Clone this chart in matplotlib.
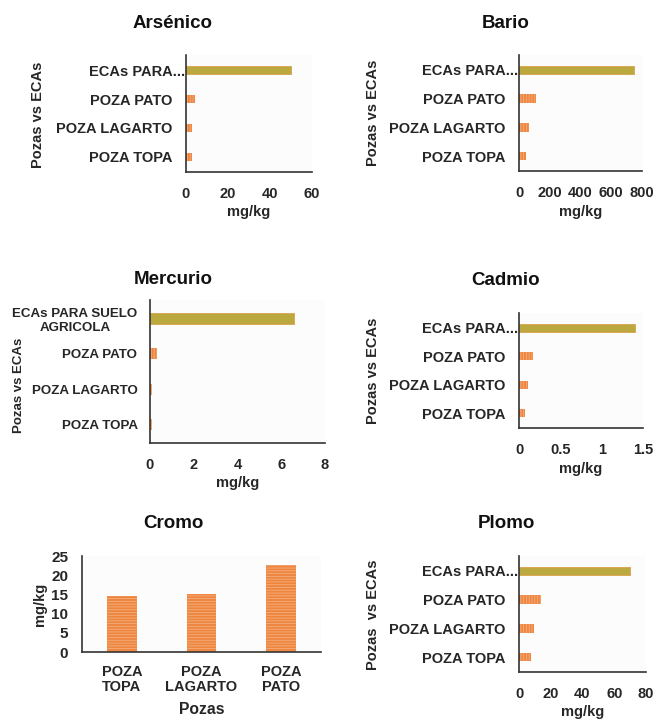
import matplotlib
matplotlib.use('Agg')
import matplotlib.pyplot as plt
from matplotlib.transforms import ScaledTranslation

# ---------------- data ----------------
categories = ['POZA TOPA', 'POZA LAGARTO', 'POZA PATO', 'ECAs PARA...']
mercurio_categories = ['POZA TOPA', 'POZA LAGARTO', 'POZA PATO', 'ECAs PARA SUELO\nAGRICOLA']
arsenico = [2.8, 2.8, 4.2, 50]
bario = [45, 65, 110, 750]
mercurio = [0.1, 0.1, 0.32, 6.6]
cadmio = [0.07, 0.11, 0.17, 1.4]
plomo = [7.5, 9.5, 14, 70]
cromo_categories = ['POZA\nTOPA', 'POZA\nLAGARTO', 'POZA\nPATO']
cromo = [14.6, 15.1, 22.7]

arsenico_ticks = [0, 20, 40, 60]
bario_ticks = [0, 200, 400, 600, 800]
mercurio_ticks = [0, 2, 4, 6, 8]
cadmio_ticks = [0, 0.5, 1, 1.5]
cadmio_ticklabels = ['0', '0.5', '1', '1.5']
plomo_ticks = [0, 20, 40, 60, 80]
cromo_ticks = [0, 5, 10, 15, 20, 25]

# ---------------- style ----------------
plt.rcParams['font.family'] = ['Liberation Sans', 'DejaVu Sans']
plt.rcParams['font.weight'] = 'bold'
plt.rcParams['axes.labelweight'] = 'bold'
plt.rcParams['hatch.linewidth'] = 0.6
TXT = '#262626'
ORANGE = '#EE8640'
STRIPE = '#F5AE7E'
OLIVE = '#BBA83E'
BG = '#FDFCFC'

W, H = 655, 719
fig = plt.figure(figsize=(W / 100, H / 100), dpi=100)


def px_axes(l, t, r, b):
    return fig.add_axes([l / W, 1 - b / H, (r - l) / W, (b - t) / H])


def style_axes(ax):
    ax.set_facecolor(BG)
    for s in ('top', 'right'):
        ax.spines[s].set_visible(False)
    for s in ('left', 'bottom'):
        ax.spines[s].set_color('#333333')
        ax.spines[s].set_linewidth(1.2)
    ax.tick_params(length=0, colors=TXT)


def hbar(box, vals, xticks, xticklabels, title, title_xy, ylabel, ylabel_xy,
         xlabel_y, cats=categories, fs=10.5, barh_=0.29, eca_shift=13,
         ylab_fs=10.5, lab_pad=10, tick_fs=10.5):
    l, t, r, b = box
    ax = px_axes(l, t, r, b)
    style_axes(ax)
    colors = [ORANGE, ORANGE, ORANGE, OLIVE]
    bars = ax.barh(range(len(vals)), vals, height=barh_, color=colors)
    for i, p in enumerate(bars):
        if i < 3:
            p.set_edgecolor(STRIPE)
            p.set_linewidth(0)
            p.set_hatch('|' * 6)
        else:
            p.set_edgecolor('#D9A24A')
            p.set_linewidth(0.6)
    ax.set_ylim(-0.52, 3.52)
    ax.set_xlim(xticks[0], xticks[-1])
    ax.set_xticks(xticks)
    ax.set_xticklabels(xticklabels, fontsize=tick_fs, color=TXT)
    ax.set_yticks(range(len(cats)))
    ax.set_yticklabels(cats, fontsize=fs, color=TXT, multialignment='center')
    ax.tick_params(axis='y', pad=lab_pad)
    ax.tick_params(axis='x', pad=11)
    if eca_shift:
        lab = ax.get_yticklabels()[3]
        lab.set_transform(lab.get_transform() +
                          ScaledTranslation(eca_shift / 100, 0, fig.dpi_scale_trans))
    ax.set_xlabel('mg/kg', fontsize=10.5, color=TXT, fontweight='bold')
    ax.xaxis.set_label_coords((l + r) / 2 / W, 1 - xlabel_y / H, transform=fig.transFigure)
    ax.xaxis.label.set_va('center')
    ax.set_ylabel(ylabel, fontsize=ylab_fs, color=TXT, fontweight='bold')
    ax.yaxis.set_label_coords(ylabel_xy[0] / W, 1 - ylabel_xy[1] / H, transform=fig.transFigure)
    ax.yaxis.label.set_va('center')
    fig.text(title_xy[0] / W, 1 - title_xy[1] / H, title, fontsize=13.5,
             fontweight='bold', color='#111111', ha='center', va='center')
    return ax


hbar((186, 55, 312, 172), arsenico, arsenico_ticks, [str(v) for v in arsenico_ticks],
     'Arsénico', (173, 23), 'Pozas vs ECAs', (38, 115), 212)
hbar((519, 55, 642, 171), bario, bario_ticks, [str(v) for v in bario_ticks],
     'Bario', (506, 23), 'Pozas vs ECAs', (373, 113), 212)
hbar((150, 300, 325, 443), mercurio, mercurio_ticks, [str(v) for v in mercurio_ticks],
     'Mercurio', (173, 280), 'Pozas vs ECAs', (19, 385), 483, cats=mercurio_categories,
     fs=9.6, barh_=0.3, eca_shift=0, ylab_fs=9.5, lab_pad=9)
hbar((519, 313, 643, 428), cadmio, cadmio_ticks, cadmio_ticklabels,
     'Cadmio', (506, 281), 'Pozas vs ECAs', (373, 371), 469)
hbar((519, 556, 646, 672), plomo, plomo_ticks, [str(v) for v in plomo_ticks],
     'Plomo', (506, 524), 'Pozas  vs ECAs', (373, 615), 712)

# ---------------- Cromo (vertical bars) ----------------
l, t, r, b = 82, 556, 321, 652
ax = px_axes(l, t, r, b)
style_axes(ax)
bars = ax.bar(range(len(cromo)), cromo, width=0.37, color=ORANGE)
for p in bars:
    p.set_edgecolor(STRIPE)
    p.set_linewidth(0)
    p.set_hatch('-' * 6)
ax.set_xlim(-0.5, len(cromo) - 0.5)
ax.set_ylim(cromo_ticks[0], cromo_ticks[-1])
ax.set_yticks(cromo_ticks)
ax.set_yticklabels([str(v) for v in cromo_ticks], fontsize=11, color=TXT)
ax.set_xticks(range(len(cromo)))
ax.set_xticklabels(cromo_categories, fontsize=10.5, color=TXT, linespacing=1.1)
ax.tick_params(axis='y', pad=10)
ax.tick_params(axis='x', pad=9)
ax.set_xlabel('Pozas', fontsize=11.3, color=TXT, fontweight='bold')
ax.xaxis.set_label_coords((l + r) / 2 / W, 1 - 710 / H, transform=fig.transFigure)
ax.xaxis.label.set_va('center')
ax.set_ylabel('mg/kg', fontsize=10.5, color=TXT, fontweight='bold')
ax.yaxis.set_label_coords(40 / W, 1 - 604 / H, transform=fig.transFigure)
ax.yaxis.label.set_va('center')
fig.text(173 / W, 1 - 523 / H, 'Cromo', fontsize=13.5, fontweight='bold',
         color='#111111', ha='center', va='center')

fig.savefig('out.png', dpi=100, facecolor='white')
